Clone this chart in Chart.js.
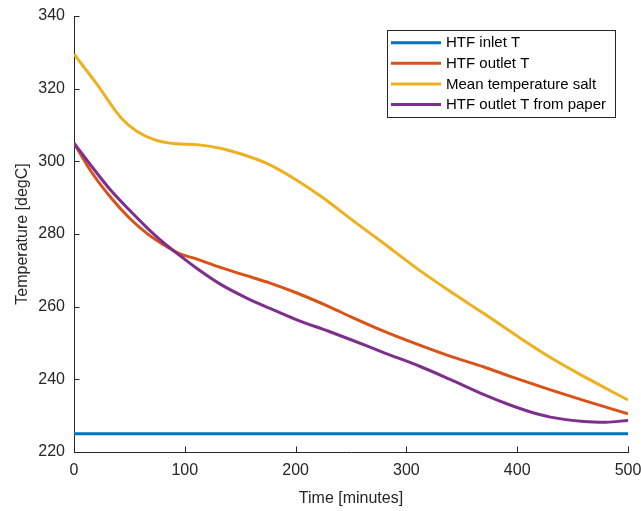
<!DOCTYPE html>
<html>
<head>
<meta charset="utf-8">
<script src="https://cdn.jsdelivr.net/npm/chart.js@4/dist/chart.umd.min.js"></script>
<style>
  html, body { margin: 0; padding: 0; background: #fff; }
  #wrap { width: 641px; height: 511px; }
</style>
</head>
<body>
<div id="wrap"><canvas id="chart" width="641" height="511"></canvas></div>
<script>
// time axis values [minutes] for each curve
const inletTime = [0, 500];
const inletTemp = [225, 225];

const outletTime = [0, 15, 33, 50, 66, 80, 95, 111, 132, 155, 177, 200, 231, 250, 280, 312, 340, 370, 393, 430, 460, 500];
const outletTemp = [305, 297.4, 290.1, 284.4, 280.1, 277.2, 274.6, 273.1, 270.8, 268.6, 266.5, 263.9, 259.9, 257.2, 253.2, 249.4, 246.3, 243.4, 240.9, 237.1, 234.2, 230.5];

const saltTime = [0, 20, 43, 57, 73, 90, 111, 132, 153, 175, 200, 225, 250, 280, 310, 340, 370, 400, 430, 460, 500];
const saltTemp = [329.5, 321.5, 311.8, 308.2, 305.9, 304.9, 304.6, 303.6, 301.8, 299.3, 295.0, 289.9, 284.1, 277.3, 270.4, 264.1, 258.1, 251.9, 246.0, 240.8, 234.3];

const paperTime = [0, 15, 33, 50, 66, 80, 95, 111, 132, 155, 177, 200, 231, 250, 280, 312, 340, 370, 393, 410, 430, 460, 480, 500];
const paperTemp = [305, 299.0, 292.1, 286.6, 281.7, 277.8, 274.2, 270.5, 266.2, 262.5, 259.5, 256.5, 253.1, 250.9, 247.3, 243.6, 239.9, 235.8, 233.0, 231.2, 229.6, 228.4, 228.2, 228.7];

const seriesNames = ['HTF inlet T', 'HTF outlet T', 'Mean temperature salt', 'HTF outlet T from paper'];
const seriesColors = ['#0072BD', '#D95319', '#EDB120', '#7E2F8E'];

const xTitle = 'Time [minutes]';
const yTitle = 'Temperature [degC]';

const FONT = '"Liberation Sans", Arial, Helvetica, sans-serif';
const INK = '#262626';

function toPoints(xs, ys) {
  return xs.map((x, i) => ({ x: x, y: ys[i] }));
}

const seriesData = [
  toPoints(inletTime, inletTemp),
  toPoints(outletTime, outletTemp),
  toPoints(saltTime, saltTemp),
  toPoints(paperTime, paperTemp)
];

// later series are painted on top, like plot() with hold on
const datasets = seriesData.map((pts, i) => ({
  label: seriesNames[i],
  data: pts,
  borderColor: seriesColors[i],
  backgroundColor: seriesColors[i],
  borderWidth: 3,
  pointRadius: 0,
  fill: false,
  cubicInterpolationMode: 'monotone',
  order: seriesNames.length - i
}));

// tick marks pointing into the plot area
const inwardTicks = {
  id: 'inwardTicks',
  afterDraw(chart) {
    const { ctx, chartArea, scales } = chart;
    const len = 5.5;
    ctx.save();
    ctx.strokeStyle = INK;
    ctx.lineWidth = 1;
    ctx.beginPath();
    scales.x.ticks.forEach(t => {
      const px = Math.round(scales.x.getPixelForValue(t.value)) + 0.5;
      ctx.moveTo(px, chartArea.bottom);
      ctx.lineTo(px, chartArea.bottom - len);
    });
    scales.y.ticks.forEach(t => {
      const py = Math.round(scales.y.getPixelForValue(t.value)) + 0.5;
      ctx.moveTo(chartArea.left, py);
      ctx.lineTo(chartArea.left + len, py);
    });
    ctx.stroke();
    ctx.restore();
  }
};

// boxed legend in the upper right corner of the axes
const boxLegend = {
  id: 'boxLegend',
  afterDraw(chart) {
    const { ctx, chartArea } = chart;
    const sets = chart.data.datasets;
    const w = 228, rowH = 20.6;
    const h = 87;
    const x0 = chartArea.right - 13 - w;
    const y0 = chartArea.top + 14;
    ctx.save();
    ctx.fillStyle = '#fff';
    ctx.fillRect(x0, y0, w, h);
    ctx.strokeStyle = INK;
    ctx.lineWidth = 1;
    ctx.strokeRect(Math.round(x0) + 0.5, Math.round(y0) + 0.5, w, h);
    ctx.font = '15px ' + FONT;
    ctx.textBaseline = 'middle';
    sets.forEach((ds, i) => {
      const cy = y0 + 12.7 + i * rowH;
      ctx.strokeStyle = ds.borderColor;
      ctx.lineWidth = 3;
      ctx.beginPath();
      ctx.moveTo(x0 + 4, cy);
      ctx.lineTo(x0 + 54, cy);
      ctx.stroke();
      ctx.fillStyle = '#000';
      ctx.fillText(ds.label, x0 + 59, cy + 0.5);
    });
    ctx.restore();
  }
};

const ctx = document.getElementById('chart').getContext('2d');
new Chart(ctx, {
  type: 'line',
  data: { datasets: datasets },
  options: {
    responsive: false,
    animation: false,
    layout: { padding: { left: 0, right: 13, top: 16, bottom: 0 } },
    plugins: {
      legend: { display: false },
      tooltip: { enabled: false }
    },
    scales: {
      x: {
        type: 'linear',
        min: 0,
        max: 500,
        grid: { display: false, drawTicks: false },
        border: { display: true, color: INK, width: 1 },
        ticks: { stepSize: 100, color: INK, padding: 9, maxRotation: 0, font: { family: FONT, size: 16 } },
        title: { display: true, text: xTitle, color: INK, padding: { top: 0, bottom: 3 }, font: { family: FONT, size: 16 } },
        afterFit(scale) {
          scale.height = 59;
          // the "500" label may hang past the right edge of the canvas
          scale.paddingLeft = 0;
          scale.paddingRight = 0;
        }
      },
      y: {
        type: 'linear',
        min: 220,
        max: 340,
        grid: { display: false, drawTicks: false },
        border: { display: true, color: INK, width: 1 },
        ticks: { stepSize: 20, color: INK, padding: 9, font: { family: FONT, size: 16 } },
        title: { display: true, text: yTitle, color: INK, padding: { top: 13, bottom: 0 }, font: { family: FONT, size: 16 } },
        afterFit(scale) {
          scale.width = 74;
          scale.paddingTop = 0;
          scale.paddingBottom = 0;
        }
      }
    }
  },
  plugins: [inwardTicks, boxLegend]
});
</script>
</body>
</html>
